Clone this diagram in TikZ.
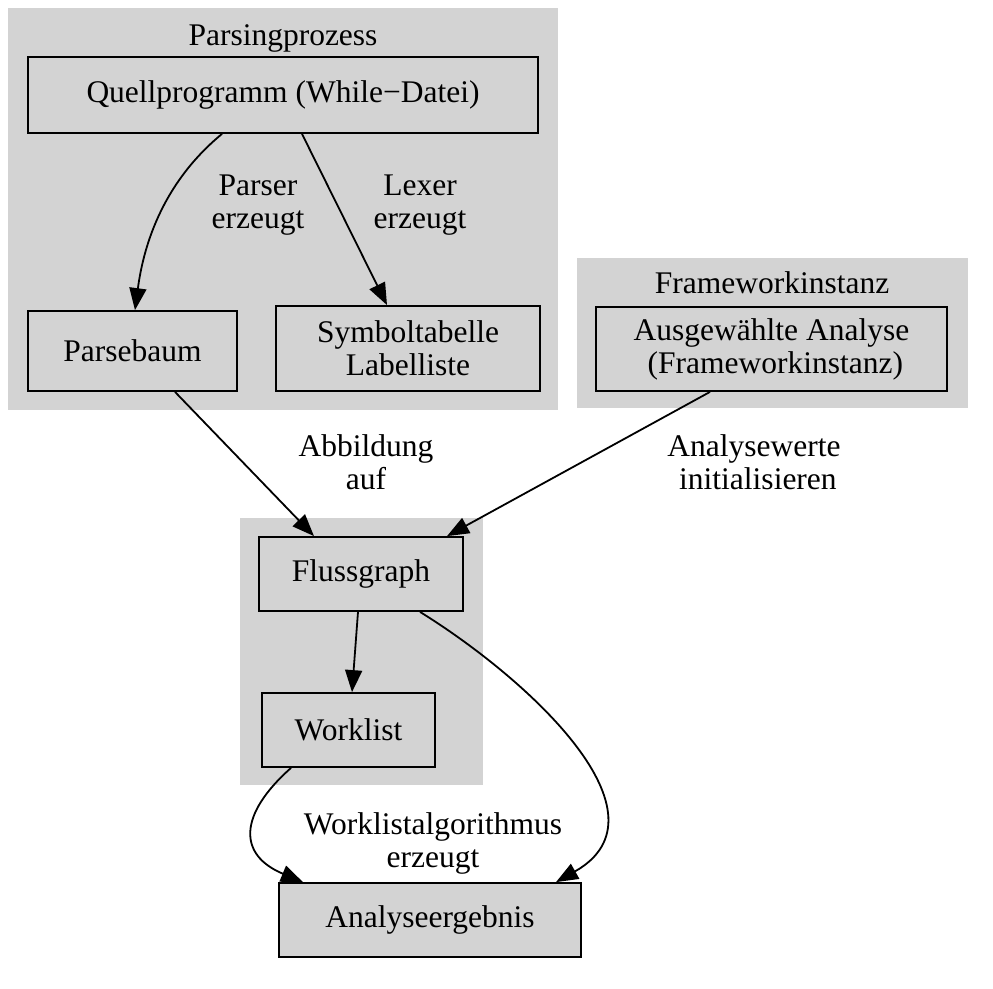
\documentclass[tikz,border=0pt]{standalone}
\usepackage{fontspec}
\setmainfont{Liberation Serif}
\usetikzlibrary{arrows.meta}
\definecolor{clgray}{RGB}{211,211,211}
\begin{document}
\begin{tikzpicture}[x=1pt,y=-1pt,
  box/.style={draw=black,line width=1.8pt,fill=clgray,inner sep=0pt,align=center,font=\fontsize{31.5}{33}\selectfont},
  cluster/.style={fill=clgray,draw=none},
  lbl/.style={align=center,font=\fontsize{31.5}{33}\selectfont,inner sep=0pt},
  conn/.style={line width=1.8pt,-{Triangle[length=22pt,width=17pt]}}]
\useasboundingbox[fill=white] (0,0) rectangle (993,988);
% clusters
\fill[cluster] (8,8) rectangle (558,410);
\fill[cluster] (577,258) rectangle (968,408);
\fill[cluster] (240,518) rectangle (483,785);
\node[lbl] (cl1) at (283,38) {Parsingprozess};
\node[lbl] (cl2) at (772,283) {Frameworkinstanz};
% nodes
\node[box,minimum width=510pt,minimum height=76pt] (Q) at (283,95) {Quellprogramm (While\textminus Datei)};
\node[box,minimum width=209pt,minimum height=80pt] (P) at (132.5,351) {Parsebaum};
\node[box,minimum width=264pt,minimum height=85pt] (S) at (408,348.5) {Symboltabelle\\Labelliste};
\node[box,minimum width=351pt,minimum height=84pt] (A) at (771.5,349) {Ausgewählte Analyse\\\ (Frameworkinstanz)};
\node[box,minimum width=204pt,minimum height=74pt] (F) at (361,574) {Flussgraph};
\node[box,minimum width=173pt,minimum height=74pt] (W) at (348.5,730) {Worklist};
\node[box,minimum width=302pt,minimum height=74pt] (E) at (430,920) {Analyseergebnis};
% edges
\draw[conn] ([xshift=-61pt]Q.south) .. controls (160,185) and (143,250) .. ([xshift=2.5pt]P.north);
\draw[conn] ([xshift=19pt]Q.south) -- ([xshift=-21pt]S.north);
\draw[conn] ([xshift=42.5pt]P.south) -- ([xshift=-47pt]F.north);
\draw[conn] ([xshift=-61.5pt]A.south) -- ([xshift=86pt]F.north);
\draw[conn] ([xshift=-3pt]F.south) -- ([xshift=3.5pt]W.north);
\draw[conn] ([xshift=-57.5pt]W.south) .. controls (238,815) and (238,855) .. ([xshift=-127pt]E.north);
\draw[conn] ([xshift=59pt]F.south) .. controls (530,680) and (675,815) .. ([xshift=126pt]E.north);
% labels
\node[lbl] (l1) at (258,205) {Parser\\erzeugt};
\node[lbl] (l2) at (420,205) {Lexer\\erzeugt};
\node[lbl] (l3) at (366,462) {Abbildung\\auf};
\node[lbl] (l4) at (754,462) {Analysewerte\\\ initialisieren};
\node[lbl] (l5) at (433,843) {Worklistalgorithmus\\erzeugt};
\end{tikzpicture}
\end{document}
